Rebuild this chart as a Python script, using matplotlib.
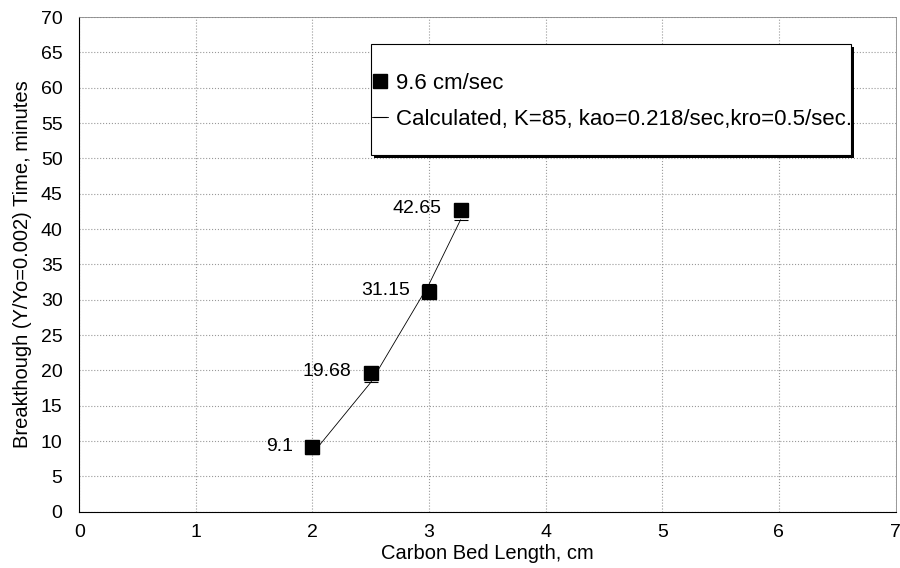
import matplotlib
matplotlib.use("Agg")
import matplotlib.pyplot as plt
from matplotlib.patches import Rectangle
import matplotlib.transforms as mtransforms

plt.rcParams['font.family'] = ['Liberation Sans', 'DejaVu Sans']

# measured breakthrough at 9.6 cm/sec
bed_length = [2.0, 2.5, 3.0, 3.27]
breakthrough = [9.1, 19.68, 31.15, 42.65]
point_labels = ["9.1", "19.68", "31.15", "42.65"]

# calculated curve
calc_length = [2.0, 2.5, 3.0, 3.27]
calc_time = [8.2, 18.3, 32.2, 41.3]

fig = plt.figure(figsize=(9, 5.68), dpi=100)
ax = fig.add_axes([0.088, 0.099, 0.907, 0.871])

ax.plot(bed_length, breakthrough, linestyle='none', marker='s', ms=10,
        color='black', label='9.6 cm/sec', zorder=3)
ax.plot(calc_length, calc_time, color='black', lw=0.6, marker='_', ms=10,
        mew=0.8, label='Calculated, K=85, kao=0.218/sec,kro=0.5/sec.', zorder=2)

for x, y, t in zip(bed_length, breakthrough, point_labels):
    ax.annotate(t, (x, y), xytext=(-14, 1), textcoords='offset points',
                ha='right', va='center', fontsize=14)

ax.set_xlim(0, 7)
ax.set_ylim(0, 70)
ax.set_xticks(range(0, 8))
ax.set_yticks(range(0, 71, 5))
ax.tick_params(axis='y', labelsize=14, length=0, pad=12)
ax.tick_params(axis='x', labelsize=14, length=0, pad=9)
ax.grid(True, color='#999999', linestyle=':', linewidth=0.8)
for s in ['top', 'right']:
    ax.spines[s].set_color('#888888')
    ax.spines[s].set_linewidth(0.6)
for s in ['left', 'bottom']:
    ax.spines[s].set_linewidth(0.8)

ax.set_xlabel('Carbon Bed Length, cm', fontsize=14.5, labelpad=2)
ax.set_ylabel('Breakthough (Y/Yo=0.002) Time, minutes', fontsize=14.5, labelpad=6)

# legend box with a hard black drop shadow
box = (0.357, 0.721, 0.588, 0.224)
shadow_tr = mtransforms.offset_copy(ax.transAxes, fig=fig, x=3, y=-3, units='dots')
ax.add_patch(Rectangle(box[:2], box[2], box[3], transform=shadow_tr,
                       facecolor='black', edgecolor='none', zorder=4, clip_on=False))
ax.add_patch(Rectangle(box[:2], box[2], box[3], transform=ax.transAxes,
                       facecolor='white', edgecolor='black', lw=0.8, zorder=4.5,
                       clip_on=False))

leg = ax.legend(loc='upper left', bbox_to_anchor=(0.359, 0.887), fontsize=16,
                frameon=False, borderpad=0, labelspacing=0.68,
                handlelength=0.7, handletextpad=0.36, borderaxespad=0)
leg.set_zorder(5)

fig.savefig('out.png', dpi=100)
